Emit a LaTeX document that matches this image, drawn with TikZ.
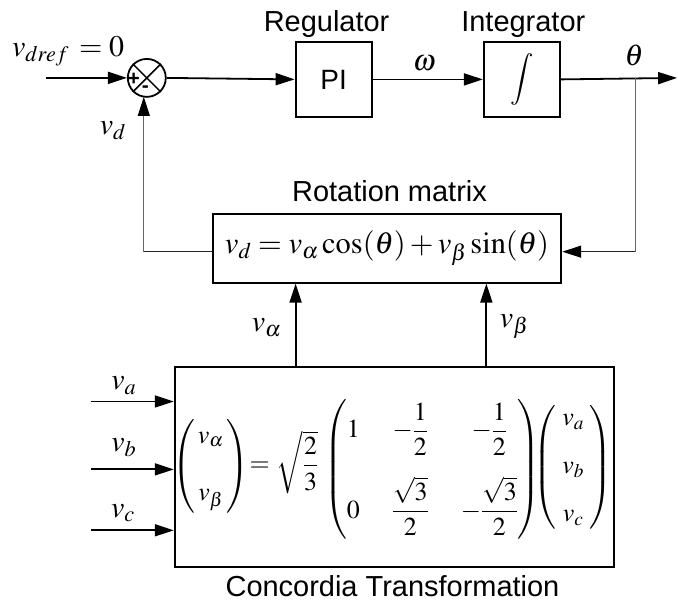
\documentclass[tikz,border=0pt]{standalone}
\usepackage{amsmath}
\usepackage{mathptmx}
\usepackage[no-math]{fontspec}
\setmainfont{Liberation Sans}
\usetikzlibrary{arrows.meta}
\begin{document}
\begin{tikzpicture}[x=1pt,y=-1pt,
  lbl/.style={font=\fontsize{29}{32}\selectfont, inner sep=0},
  mth/.style={font=\fontsize{30}{34}\selectfont, inner sep=0},
  cmth/.style={font=\fontsize{26}{30}\selectfont, inner sep=0},
  blk/.style={draw, line width=2pt, minimum width=76pt, minimum height=75pt, inner sep=0, font=\fontsize{28}{30}\selectfont},
  tip/.style={-{Triangle[length=19pt,width=12pt]}},
  sig/.style={line width=1.8pt, tip},
  fbthin/.style={line width=1pt, draw=black!60},
  fbarr/.style={line width=1.5pt, draw=black!85, -{Triangle[length=19pt,width=12pt, color=black]}}
]
\path (0,0) rectangle (678,603);
% summing junction
\node[circle, draw, line width=1.8pt, minimum size=38pt, inner sep=0] (sum) at (147,78) {};
\draw[line width=1.5pt] (sum.north west) -- (sum.south east) (sum.north east) -- (sum.south west);
\node[font=\fontsize{21}{21}\selectfont\bfseries, inner sep=0] (plus) at (134,79) {+};
\node[font=\fontsize{21}{21}\selectfont\bfseries, inner sep=0] (minus) at (145.5,89) {-};
\coordinate (in) at (46,78);
\draw[sig] (in) -- (sum.west);
\node[mth, anchor=base west] (vref) at (12,57) {$v_{dref}\,=0$};
% forward path
\node[blk] (pi) at (334,79.5) {PI};
\node[blk, font=\fontsize{26}{28}\selectfont] (int) at (522.5,79.5) {$\displaystyle\int$};
\node[lbl, anchor=base] (reg) at (327,32) {Regulator};
\node[lbl, anchor=base] (intl) at (524,32) {Integrator};
\draw[sig] (sum.east) -- (pi.west);
\draw[sig] (pi.east) -- (int.west);
\coordinate (out) at (678,78);
\draw[sig] (int.east) -- (out);
\node[mth] (om) at (425,63) {$\omega$};
\node[mth] (th) at (635,56) {$\theta$};
% rotation matrix
\node[draw, line width=2pt, minimum width=349pt, minimum height=69pt, inner sep=0,
      font=\fontsize{30.5}{34}\selectfont] (rot) at (387.5,248.5)
  {$v_d = v_\alpha\cos(\theta) + v_\beta\sin(\theta)$};
\node[lbl, anchor=base] (rotl) at (390,202) {Rotation matrix};
\coordinate (br) at (636,78);
\coordinate (c1) at (br |- 0,252);
\draw[fbthin] (br) -- (c1);
\draw[fbarr] (c1) -- (rot.east |- c1);
\coordinate (c2) at (144,252);
\coordinate (c3) at (144,97);
\draw[line width=1.4pt, draw=black!85] (rot.west |- c2) -- (c2);
\draw[fbthin, -{Triangle[length=19pt,width=12pt, color=black]}] (c2) -- (c3);
\node[mth] (vd) at (113,131) {$v_d$};
% Concordia
\node[draw, line width=2pt, minimum width=440pt, minimum height=201pt, inner sep=0] (conc) at (395,467.5) {};
\node[cmth] (lv) at (211,467) {$\begin{pmatrix} \,v_\alpha\, \\[28pt] \,v_\beta\, \end{pmatrix}$};
\node[cmth] (eq) at (260,467) {$=$};
\node[cmth] (sq) at (298,463) {$\sqrt{\dfrac{2}{3}}$};
\node[cmth] (mx) at (433,470) {\setlength{\arraycolsep}{16pt}%
  $\begin{pmatrix} 1 & -\dfrac{1}{2} & -\dfrac{1}{2} \\[30pt] 0 & \dfrac{\sqrt{3}}{2} & -\dfrac{\sqrt{3}}{2} \end{pmatrix}$};
\node[cmth] (rv) at (574,468) {$\begin{pmatrix} \;v_a\; \\[18pt] \;v_b\; \\[18pt] \;v_c\; \end{pmatrix}$};
\node[lbl, anchor=base] (concl) at (393,597) {Concordia Transformation};
\coordinate (xa) at (296,0);
\coordinate (xb) at (487,0);
\draw[sig] (xa |- conc.north) -- (xa |- rot.south);
\draw[sig] (xb |- conc.north) -- (xb |- rot.south);
\node[mth] (va) at (267,328) {$v_\alpha$};
\node[mth] (vb) at (515,327) {$v_\beta$};
\coordinate (ia) at (91,402);
\coordinate (ib) at (91,470);
\coordinate (ic) at (91,531);
\draw[sig] (ia) -- (ia -| conc.west);
\draw[sig] (ib) -- (ib -| conc.west);
\draw[sig] (ic) -- (ic -| conc.west);
\node[mth] (lva) at (124,386) {$v_a$};
\node[mth] (lvb) at (124,448) {$v_b$};
\node[mth] (lvc) at (123,514) {$v_c$};
\end{tikzpicture}
\end{document}
